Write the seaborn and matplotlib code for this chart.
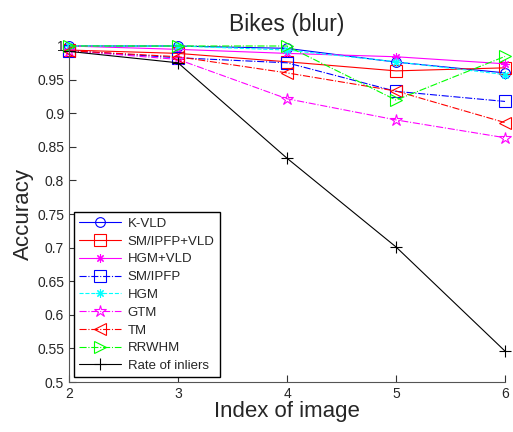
import matplotlib
matplotlib.use("Agg")
import matplotlib.pyplot as plt
import seaborn as sns
import numpy as np

images = [2, 3, 4, 5, 6]

k_vld = [1.0, 1.0, 0.9965, 0.976, 0.96]
sm_ipfp_vld = [0.994, 0.989, 0.9765, 0.963, 0.9675]
hgm_vld = [1.0, 0.995, 0.989, 0.984, 0.9735]
sm_ipfp = [0.993, 0.9825, 0.975, 0.9325, 0.9175]
hgm = [1.0, 1.0, 0.994, 0.9765, 0.9575]
gtm = [0.993, 0.98, 0.9215, 0.89, 0.8635]
tm = [0.993, 0.984, 0.96, 0.933, 0.886]
rrwhm = [1.0, 1.0, 1.0, 0.9195, 0.9845]
inliers = [0.992, 0.975, 0.833, 0.701, 0.546]

names = ["K-VLD", "SM/IPFP+VLD", "HGM+VLD", "SM/IPFP", "HGM",
         "GTM", "TM", "RRWHM", "Rate of inliers"]


def main():
    sns.set_style("ticks")
    plt.rcParams["font.family"] = ["Liberation Sans", "DejaVu Sans"]

    fig = plt.figure(figsize=(5.13, 4.32), dpi=100)
    ax = fig.add_axes([69 / 513, 1 - 382 / 432, 436 / 513, 336 / 432])

    series = [k_vld, sm_ipfp_vld, hgm_vld, sm_ipfp, hgm, gtm, tm, rrwhm, inliers]
    colors = ["#0000ff", "#ff0000", "#ff00ff", "#0000ff", "#00ffff",
              "#ff00ff", "#ff0000", "#00ff00", "#000000"]
    styles = ["-", "-", "-", "-.", "--", "-.", "-.", "-.", "-"]
    markers = ["o", "s", (8, 2, 0), "s", (8, 2, 0), "*", "<", ">", "+"]
    sizes = [7, 8, 6, 8, 6, 9, 9, 9, 8]

    for vals, name, c, ls, m, ms in zip(series, names, colors, styles, markers, sizes):
        sns.lineplot(x=images, y=vals, ax=ax, color=c, linestyle=ls, marker=m,
                     markersize=ms, markerfacecolor="none", markeredgecolor=c,
                     markeredgewidth=0.8, linewidth=0.8, label=name,
                     clip_on=False)

    ax.set_xlim(2, 6)
    ax.set_ylim(0.5, 1.0)
    ax.set_xticks(images)
    ax.set_yticks(np.arange(0.5, 1.001, 0.05))
    ax.set_yticklabels(["0.5", "0.55", "0.6", "0.65", "0.7", "0.75",
                        "0.8", "0.85", "0.9", "0.95", "1"])
    ax.tick_params(direction="in", labelsize=10, length=5, color="#333333")
    for side in ["top", "right"]:
        ax.spines[side].set_visible(False)
    for side in ["left", "bottom"]:
        ax.spines[side].set_color("#555555")

    ax.set_title("Bikes (blur)", fontsize=16.5, pad=11)
    ax.set_xlabel("Index of image", fontsize=16, labelpad=0)
    ax.set_ylabel("Accuracy", fontsize=16, labelpad=2)

    leg = ax.legend(loc="lower left", fontsize=9.5, fancybox=False,
                    edgecolor="black", framealpha=1, borderaxespad=0.35,
                    handlelength=3.2, labelspacing=0.42, borderpad=0.4,
                    handletextpad=0.5)
    leg.get_frame().set_linewidth(1.0)

    fig.savefig("out.png", dpi=100)


if __name__ == "__main__":
    main()
